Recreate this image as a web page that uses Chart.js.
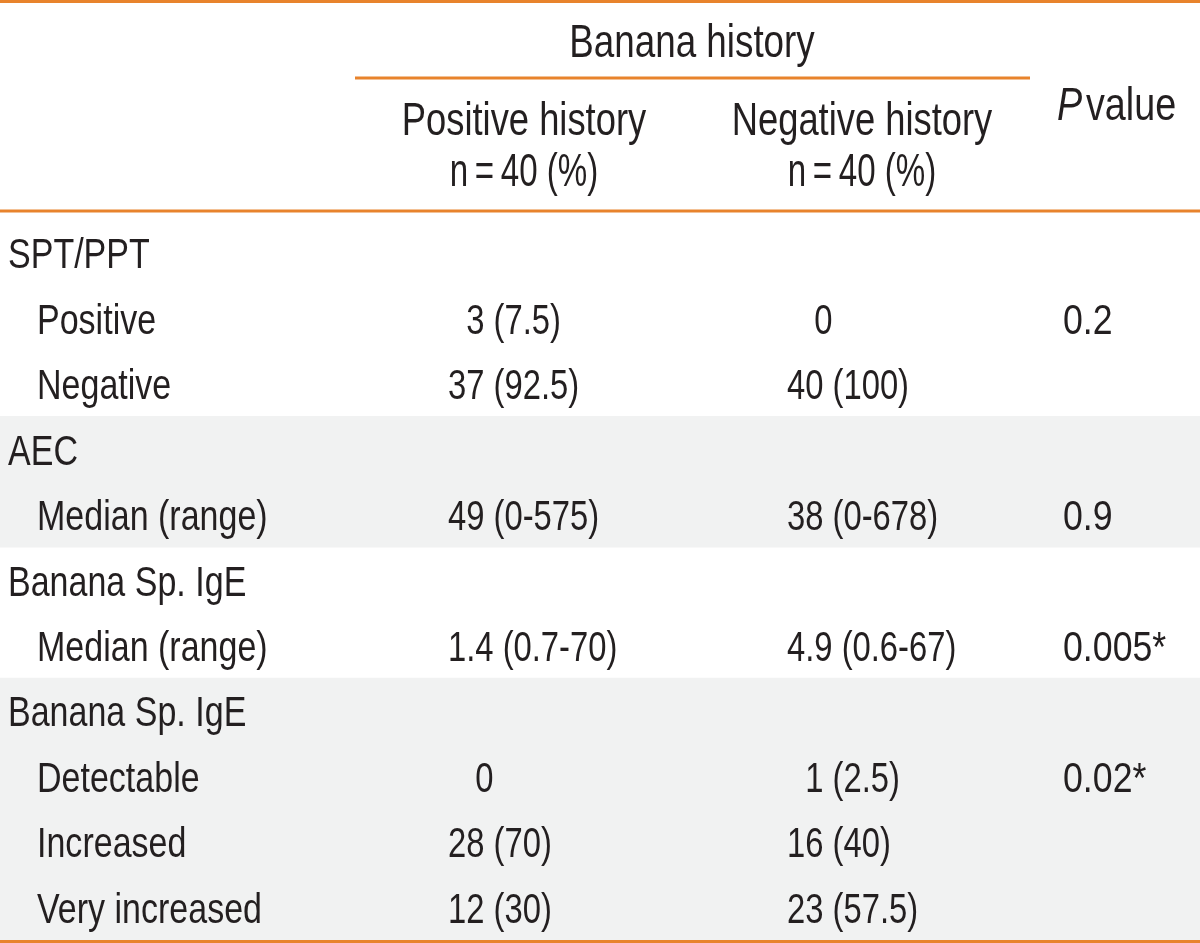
<!DOCTYPE html>
<html>
<head>
<meta charset="utf-8">
<script src="https://cdn.jsdelivr.net/npm/chart.js@4"></script>
<style>
  body { margin: 0; background: #fff; }
  canvas { display: block; }
</style>
</head>
<body>
<canvas id="tableChart" width="1200" height="943"></canvas>
<script>
// table data
const rowLabels = ['SPT/PPT', 'Positive', 'Negative', 'AEC', 'Median (range)', 'Banana Sp. IgE',
    'Median (range)', 'Banana Sp. IgE', 'Detectable', 'Increased', 'Very increased'];
const rowIndent = [0, 1, 1, 0, 1, 0, 1, 0, 1, 1, 1];
const positiveHistory = ['', '\u20073 (7.5)', '37 (92.5)', '', '49 (0-575)', '', '1.4 (0.7-70)',
    '', '\u2007 0', '28 (70)', '12 (30)'];
const negativeHistory = ['', '\u2007 0', '40 (100)', '', '38 (0-678)', '', '4.9 (0.6-67)',
    '', '\u20071 (2.5)', '16 (40)', '23 (57.5)'];
const pValues = ['', '0.2', '', '', '0.9', '', '0.005*', '', '0.02*', '', ''];
const shadedRows = [false, false, false, true, true, false, false, true, true, true, true];

const groupTitle = 'Banana history';
const columnTitles = ['Positive history', 'Negative history'];
const columnCounts = ['n\u2009=\u200940 (%)', 'n\u2009=\u200940 (%)'];

const ORANGE = '#e8832c';
const TEXT = '#231f20';
const FONT = '"Liberation Sans", Arial, sans-serif';

// size + horizontal squeeze so the glyphs look condensed
function drawText(ctx, str, x, y, align, size, sx, italic) {
    ctx.save();
    ctx.translate(x, y);
    ctx.scale(sx, 1);
    ctx.font = (italic ? 'italic ' : '') + size + 'px ' + FONT;
    ctx.fillStyle = TEXT;
    ctx.textAlign = align;
    ctx.textBaseline = 'middle';
    ctx.fillText(str, 0, 0);
    ctx.restore();
}

function hLine(ctx, x1, x2, y) {
    ctx.save();
    ctx.strokeStyle = ORANGE;
    ctx.lineWidth = 3;
    ctx.beginPath();
    ctx.moveTo(x1, y);
    ctx.lineTo(x2, y);
    ctx.stroke();
    ctx.restore();
}

const tablePlugin = {
    id: 'tableText',
    afterDatasetsDraw(chart) {
        const ctx = chart.ctx;
        const xs = chart.scales.x;
        const ys = chart.scales.y;
        const W = chart.width;
        const colX = {
            label: [xs.getPixelForValue(8 / 1200), xs.getPixelForValue(37 / 1200)],
            pos: xs.getPixelForValue(448 / 1200),
            neg: xs.getPixelForValue(787 / 1200),
            p: xs.getPixelForValue(1063 / 1200)
        };

        // header
        drawText(ctx, groupTitle, 692, 44, 'center', 46, 0.8);
        drawText(ctx, columnTitles[0], 524, 122, 'center', 46, 0.79);
        drawText(ctx, columnCounts[0], 524, 173, 'center', 46, 0.72);
        drawText(ctx, columnTitles[1], 862, 122, 'center', 46, 0.79);
        drawText(ctx, columnCounts[1], 862, 173, 'center', 46, 0.72);
        drawText(ctx, 'P', 1057, 107, 'left', 46, 0.82, true);
        drawText(ctx, 'value', 1057 + 29, 107, 'left', 46, 0.82);

        // body rows
        rowLabels.forEach(function (lab, i) {
            const y = ys.getPixelForValue(i) + 4;
            drawText(ctx, lab, colX.label[rowIndent[i]], y, 'left', 42, 0.81);
            if (positiveHistory[i]) drawText(ctx, positiveHistory[i], colX.pos, y, 'left', 42, 0.78);
            if (negativeHistory[i]) drawText(ctx, negativeHistory[i], colX.neg, y, 'left', 42, 0.78);
            if (pValues[i]) drawText(ctx, pValues[i], colX.p, y, 'left', 42, 0.85);
        });

        // rules
        hLine(ctx, 0, W, 1.5);
        hLine(ctx, 355, 1030, 78);
        hLine(ctx, 0, W, 211);
        hLine(ctx, 0, W, ys.bottom + 1.5);
    }
};

new Chart(document.getElementById('tableChart').getContext('2d'), {
    type: 'bar',
    data: {
        labels: rowLabels,
        datasets: [{
            data: shadedRows.map(s => s ? [0, 1] : null),
            backgroundColor: '#f1f2f2',
            borderWidth: 0,
            barPercentage: 1,
            categoryPercentage: 1
        }]
    },
    options: {
        indexAxis: 'y',
        responsive: false,
        animation: false,
        layout: { padding: { top: 220, bottom: 3, left: 0, right: 0 } },
        plugins: { legend: { display: false }, tooltip: { enabled: false } },
        scales: {
            x: { type: 'linear', min: 0, max: 1, display: false },
            y: { display: false }
        }
    },
    plugins: [tablePlugin]
});
</script>
</body>
</html>
